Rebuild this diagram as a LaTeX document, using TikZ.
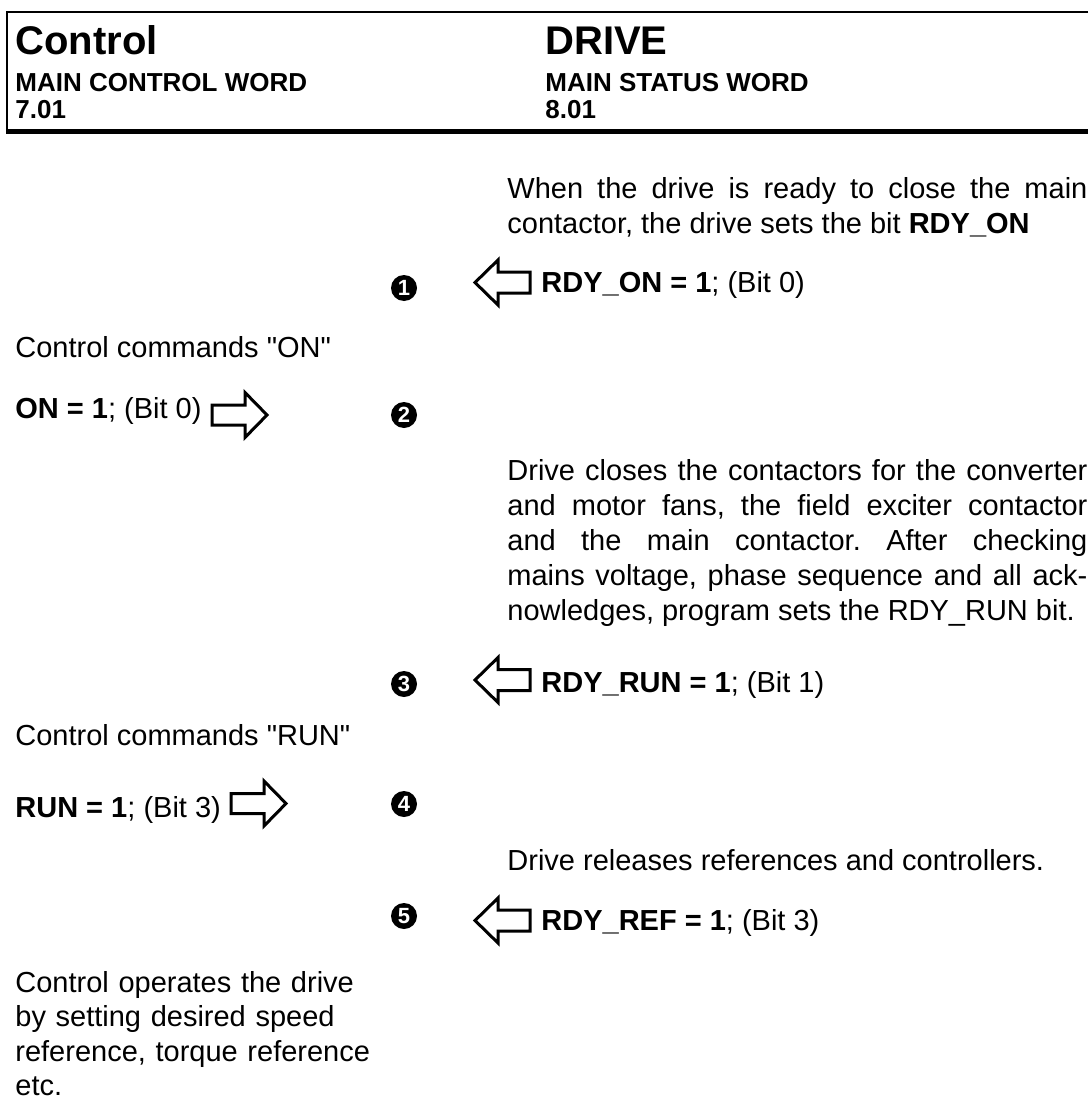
\documentclass[tikz,border=0pt]{standalone}
\usepackage{fontspec}
\setmainfont{Liberation Sans}

\tikzset{
  head/.style={anchor=base west, inner sep=0pt, font=\fontsize{20}{22}\bfseries\selectfont},
  sub/.style={anchor=base west, inner sep=0pt, font=\fontsize{13}{14}\bfseries\selectfont},
  body/.style={anchor=base west, inner sep=0pt, font=\fontsize{14.5}{17.5}\selectfont\frenchspacing},
  para/.style={body, text width=290pt, align=justify},
  stepno/.style={circle, fill=black, text=white, inner sep=0pt, minimum size=13pt, font=\fontsize{11}{11}\bfseries\selectfont},
  blockarrow/.style={draw, line width=1.5pt, line join=miter},
}

\begin{document}
\begin{tikzpicture}[x=0.5pt, y=-0.5pt]
    \useasboundingbox (0,0) rectangle (1088,1102);
    % header frame
    \draw[line width=1pt] (1088,12) -- (7,12) -- (7,132);
    \draw[line width=2.5pt] (6,131.5) -- (1088,131.5);
    % header texts
    \node[head] (ctrl) at (15,55) {Control};
    \node[sub] (cword) at (15,91) {MAIN CONTROL WORD};
    \node[sub] (cpar) at (15,119) {7.01};
    \node[head] (drive) at (545,55) {DRIVE};
    \node[sub] (sword) at (545,91) {MAIN STATUS WORD};
    \node[sub] (spar) at (545,119) {8.01};
    % drive side texts
    \node[para] (ready) at (507,198) {When the drive is ready to close the main\linebreak contactor, the drive sets the bit \textbf{RDY\_ON}};
    \node[para] (closes) at (507,480) {Drive closes the contactors for the converter\linebreak and motor fans, the field exciter contactor\linebreak and the main contactor. After checking\linebreak mains voltage, phase sequence and all ack-\linebreak nowledges, program sets the RDY\_RUN bit.};
    \node[body] (release) at (507,870) {Drive releases references and controllers.};
    % control side texts
    \node[body] (cmdon) at (15,357) {Control commands \textquotedbl ON\textquotedbl};
    \node[body] (bon) at (15,418) {\textbf{ON = 1}; (Bit 0)};
    \node[body] (cmdrun) at (15,745) {Control commands \textquotedbl RUN\textquotedbl};
    \node[body] (brun) at (15,817) {\textbf{RUN = 1}; (Bit 3)};
    \node[body, text width=200pt, align=left, font=\fontsize{14.5}{17.25}\selectfont] (operate) at (15,992) {Control operates the drive\\by setting desired speed\\reference, torque reference\\etc.};
    % step numbers
    \foreach \n/\y in {1/288, 2/415, 3/684, 4/804, 5/916}
        \node[stepno] (no\n) at (404,\y) {\n};
    % status bits, drive to control
    \node[body] (bready) at (541,292) {\textbf{RDY\_ON = 1}; (Bit 0)};
    \node[body] (brdyrun) at (541,692) {\textbf{RDY\_RUN = 1}; (Bit 1)};
    \node[body] (brdyref) at (541,930) {\textbf{RDY\_REF = 1}; (Bit 3)};
    \foreach \name/\y in {aon/282.5, arun/680, aref/920.5} {
        \coordinate (\name) at (475,\y);
        \draw[blockarrow] (\name) -- ++(23,-22.5) -- ++(0,12) -- ++(32,0) -- ++(0,21) -- ++(-32,0) -- ++(0,12) -- cycle;
    }
    % control bits, control to drive
    \foreach \name/\x/\y in {con/212/415, crun/231/803.5} {
        \coordinate (\name) at (\x,\y);
        \draw[blockarrow] (\name) ++(0,-10) -- ++(33,0) -- ++(0,-12.5) -- ++(22,22.5) -- ++(-22,22.5) -- ++(0,-12.5) -- ++(-33,0) -- cycle;
    }
\end{tikzpicture}
\end{document}
